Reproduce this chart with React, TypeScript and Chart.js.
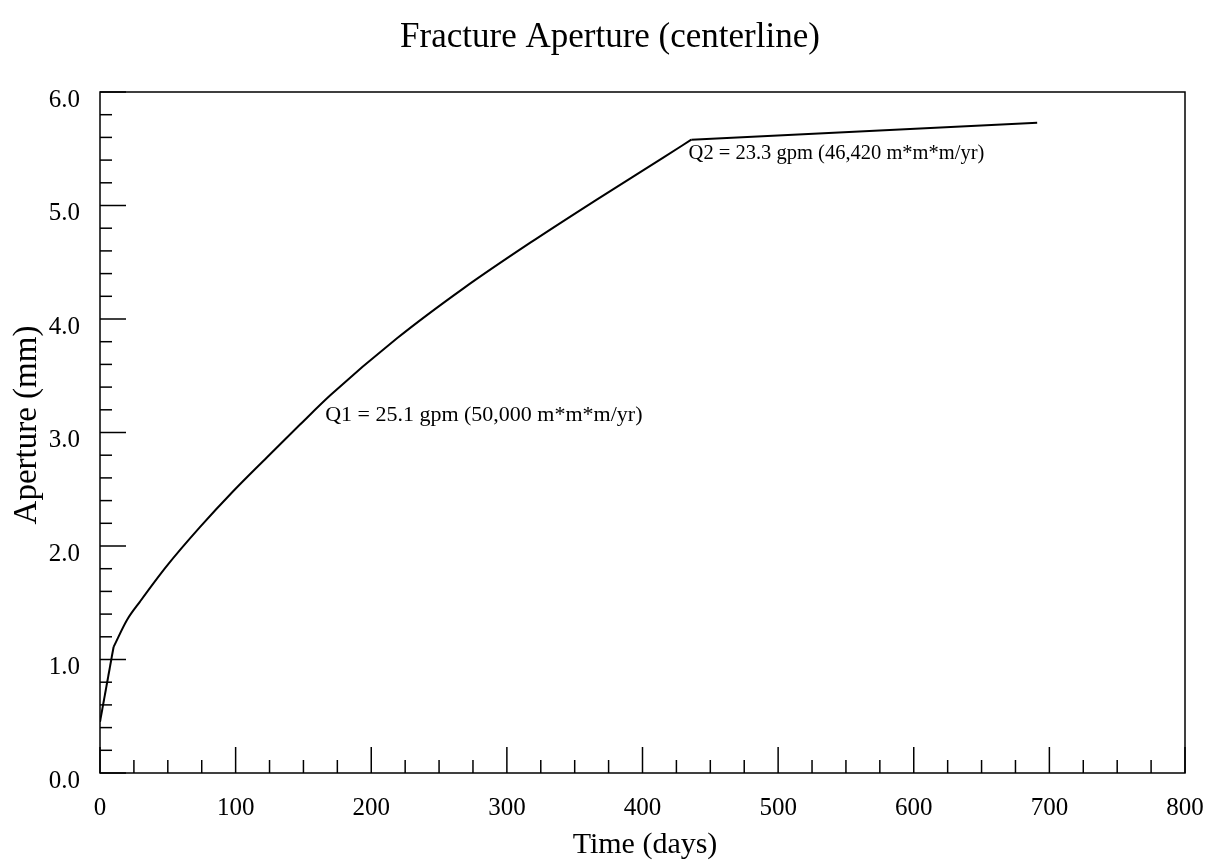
import React, { useEffect, useRef } from "react";
import { Chart, registerables } from "chart.js";

Chart.register(...registerables);

const days = [0, 10, 20, 29.5, 49, 74, 98, 123, 147.5, 170, 219, 268, 317, 366, 415, 436, 691];
const aperture = [0.45, 1.11, 1.35, 1.51, 1.82, 2.17, 2.48, 2.78, 3.07, 3.33, 3.83, 4.27, 4.67, 5.05, 5.42, 5.58, 5.73];
// indices where the curve has sharp corners (pumping-rate changes)
const cornerIdx = [1, 15];

const chartTitle = "Fracture Aperture (centerline)";
const xTitle = "Time (days)";
const yTitle = "Aperture (mm)";
const noteTexts = ["Q1 = 25.1 gpm (50,000 m*m*m/yr)", "Q2 = 23.3 gpm (46,420 m*m*m/yr)"];
const noteX = [166, 434];
const noteY = [3.15, 5.46];

const FONT = "'Liberation Serif', 'Times New Roman', serif";

const decorPlugin = {
  id: "decor",
  afterDatasetsDraw(chart: any) {
    const { ctx, chartArea } = chart;
    const xs = chart.scales.x;
    const ys = chart.scales.y;
    ctx.save();
    ctx.strokeStyle = "#000";
    ctx.lineWidth = 1.5;
    ctx.strokeRect(chartArea.left, chartArea.top, chartArea.right - chartArea.left, chartArea.bottom - chartArea.top);
    ys.ticks.forEach((t: any) => {
      const py = ys.getPixelForValue(t.value);
      const major = Math.abs(t.value - Math.round(t.value)) < 1e-6;
      const len = major ? 26 : 12;
      ctx.beginPath();
      ctx.moveTo(chartArea.left, py);
      ctx.lineTo(chartArea.left + len, py);
      ctx.stroke();
    });
    xs.ticks.forEach((t: any) => {
      const px = xs.getPixelForValue(t.value);
      const major = Math.abs(t.value % 100) < 1e-6;
      const len = major ? 26 : 13;
      ctx.beginPath();
      ctx.moveTo(px, chartArea.bottom);
      ctx.lineTo(px, chartArea.bottom - len);
      ctx.stroke();
    });
    ctx.fillStyle = "#000";
    ctx.textAlign = "left";
    ctx.textBaseline = "middle";
    noteTexts.forEach((txt, i) => {
      ctx.font = `${i === 0 ? 22 : 20.5}px ${FONT}`;
      ctx.fillText(txt, xs.getPixelForValue(noteX[i]), ys.getPixelForValue(noteY[i]));
    });
    ctx.font = `35px ${FONT}`;
    ctx.textAlign = "center";
    ctx.fillText(chartTitle, 610, 38);
    ctx.font = `30px ${FONT}`;
    ctx.fillText(xTitle, 645, 845);
    ctx.save();
    ctx.translate(27, 425);
    ctx.rotate(-Math.PI / 2);
    ctx.font = `33px ${FONT}`;
    ctx.fillText(yTitle, 0, 0);
    ctx.restore();
    ctx.restore();
  },
};

function segmentData(from: number, to: number) {
  const out: { x: number; y: number }[] = [];
  for (let i = from; i <= to; i++) out.push({ x: days[i], y: aperture[i] });
  return out;
}

export default function App() {
  const ref = useRef<HTMLCanvasElement>(null);
  useEffect(() => {
    if (!ref.current) return;
    const bounds = [0, ...cornerIdx, days.length - 1];
    const datasets = [];
    for (let s = 0; s < bounds.length - 1; s++) {
      const n = bounds[s + 1] - bounds[s] + 1;
      datasets.push({
        data: segmentData(bounds[s], bounds[s + 1]),
        borderColor: "#000",
        borderWidth: 2,
        pointRadius: 0,
        tension: n > 2 ? 0.4 : 0,
        cubicInterpolationMode: n > 2 ? ("monotone" as const) : ("default" as const),
        fill: false,
      });
    }
    const chart = new Chart(ref.current, {
      type: "line",
      data: { datasets },
      options: {
        animation: false,
        responsive: false,
        layout: { padding: { top: 92, right: 35, left: 0, bottom: 0 } },
        plugins: { legend: { display: false }, tooltip: { enabled: false }, title: { display: false } },
        scales: {
          x: {
            type: "linear",
            min: 0,
            max: 800,
            grid: { display: false },
            border: { display: false },
            afterFit: (s: any) => {
              s.height = 90;
            },
            ticks: {
              stepSize: 25,
              autoSkip: false,
              maxRotation: 0,
              padding: 12,
              color: "#000",
              font: { family: FONT, size: 25 },
              callback: (v: any) => (Math.abs(v % 100) < 1e-6 ? String(v) : ""),
            },
          },
          y: {
            type: "linear",
            min: 0,
            max: 6,
            grid: { display: false },
            border: { display: false },
            afterFit: (s: any) => {
              s.width = 100;
            },
            ticks: {
              stepSize: 0.2,
              autoSkip: false,
              padding: 12,
              labelOffset: 8,
              color: "#000",
              font: { family: FONT, size: 25 },
              callback: (v: any) => (Math.abs(v - Math.round(v)) < 1e-6 ? Number(v).toFixed(1) : ""),
            },
          },
        },
      },
      plugins: [decorPlugin],
    });
    return () => chart.destroy();
  }, []);
  return (
    <div style={{ position: "absolute", left: 0, top: 0, width: 1220, height: 863, background: "#fff" }}>
      <canvas ref={ref} width={1220} height={863} style={{ display: "block" }} />
    </div>
  );
}
